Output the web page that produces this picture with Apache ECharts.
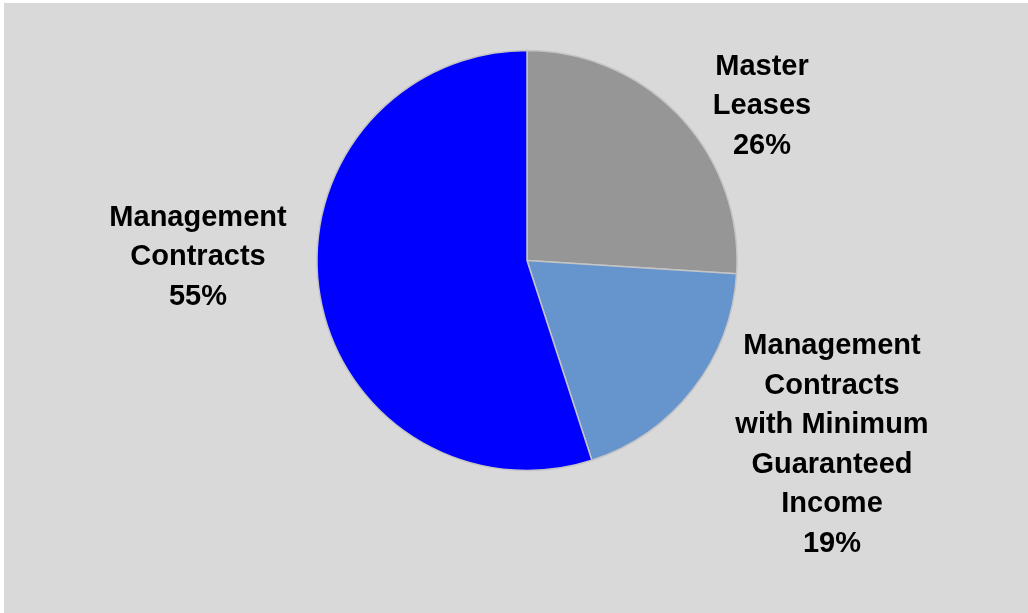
<!DOCTYPE html>
<html>
<head>
<meta charset="utf-8">
<script src="https://cdn.jsdelivr.net/npm/echarts@6/dist/echarts.min.js"></script>
<style>
  html, body { margin: 0; padding: 0; background: #ffffff; }
  #chart { position: absolute; left: 4px; top: 3px; width: 1024px; height: 610px; }
</style>
</head>
<body>
<div id="chart"></div>
<script>
// Revenue mix by contract type (share of total, %)
const categories = [
  'Master\nLeases',
  'Management\nContracts\nwith Minimum\nGuaranteed\nIncome',
  'Management\nContracts'
];
const shares = [26, 19, 55];
const sliceColors = ['#969696', '#6694cc', '#0000ff'];

// Label anchor points (centre of each text block) inside the chart box
const labelSpots = [
  [758, 103],
  [828, 442],
  [194, 254]
];

const chart = echarts.init(document.getElementById('chart'));

chart.setOption({
  backgroundColor: '#d9d9d9',
  animation: false,
  series: [{
    type: 'pie',
    center: [523, 257.5],
    radius: 210,
    startAngle: 90,
    clockwise: true,
    avoidLabelOverlap: false,
    itemStyle: {
      borderColor: '#c4c4c4',
      borderWidth: 1.5
    },
    emphasis: { disabled: true },
    label: {
      show: true,
      position: 'outside',
      formatter: p => p.name + '\n' + p.value + '%',
      fontFamily: '"Liberation Sans", Arial, sans-serif',
      fontWeight: 'bold',
      fontSize: 29,
      lineHeight: 39.5,
      color: '#000000'
    },
    labelLine: { show: false },
    labelLayout: params => {
      const p = labelSpots[params.dataIndex];
      return { x: p[0], y: p[1], align: 'center', verticalAlign: 'middle' };
    },
    data: categories.map((name, i) => ({
      name: name,
      value: shares[i],
      itemStyle: { color: sliceColors[i] }
    }))
  }]
});
</script>
</body>
</html>
